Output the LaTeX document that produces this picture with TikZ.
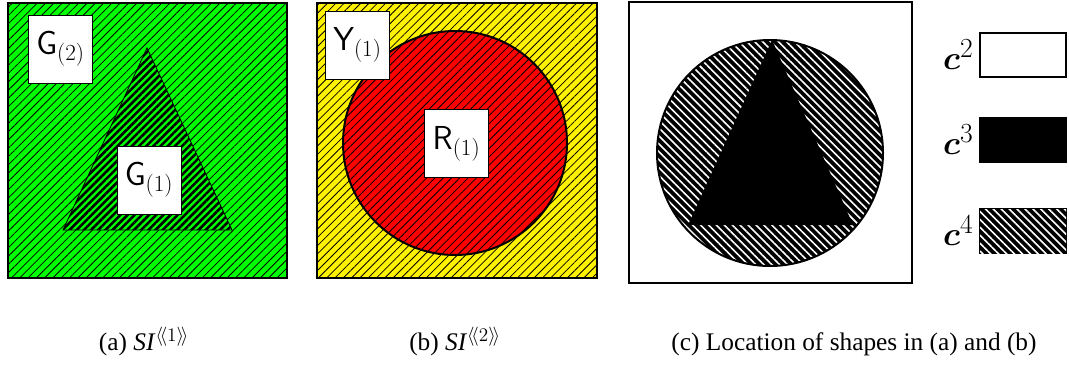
\documentclass[tikz,border=0pt]{standalone}
\usepackage{amsmath,amssymb}
\usepackage[no-math]{fontspec}
\setmainfont{Liberation Serif}
\usetikzlibrary{patterns.meta,positioning}

\tikzset{
  frame/.style={line width=1.5pt},
  thinhatch/.style={pattern={Lines[angle=45,distance=4.4pt,line width=0.6pt]},pattern color=black},
  thickhatch/.style={pattern={Lines[angle=45,distance=3.8pt,line width=1.9pt]},pattern color=black},
  whitehatch/.style={pattern={Lines[angle=-45,distance=4.2pt,line width=1.2pt]},pattern color=white},
  lbl/.style={draw,fill=white,line width=0.6pt,inner sep=0pt,minimum width=48pt,minimum height=51pt,font=\fontsize{26}{30}\selectfont},
  keybox/.style={draw,line width=1.5pt,inner sep=0pt,minimum width=64.5pt,minimum height=33pt},
  keylbl/.style={inner sep=1pt,font=\fontsize{28}{32}\selectfont},
  capt/.style={anchor=base,inner sep=0pt,font=\fontsize{19}{22}\selectfont}
}

\begin{document}
\begin{tikzpicture}[x=0.75pt,y=-0.75pt]
\useasboundingbox (0,0) rectangle (1069,364);

% (a) green square with triangle
\fill[green] (8,3) rectangle (287,278);
\fill[thinhatch] (8,3) rectangle (287,278);
\draw[frame] (8,3) rectangle (287,278);
\fill[green] (147,48) -- (63,230) -- (232,230) -- cycle;
\fill[thickhatch] (147,48) -- (63,230) -- (232,230) -- cycle;
\draw[line width=0.6pt] (147,48) -- (63,230) -- (232,230) -- cycle;
\node[lbl] (g2) at (60.5,49) {$\mathsf{G}_{(2)}$};
\node[lbl] (g1) at (149,180) {$\mathsf{G}_{(1)}$};

% (b) yellow square with red disc
\fill[yellow] (317,3) rectangle (597,278);
\fill[thinhatch] (317,3) rectangle (597,278);
\draw[frame] (317,3) rectangle (597,278);
\fill[red] (455,143) circle[radius=112];
\fill[thinhatch] (455,143) circle[radius=112];
\draw[frame] (455,143) circle[radius=112];
\node[lbl] (y1) at (357.5,45) {$\mathsf{Y}_{(1)}$};
\node[lbl] (r1) at (456.5,143.5) {$\mathsf{R}_{(1)}$};

% (c) where the shapes lie
\draw[frame,fill=white] (629,2) rectangle (912,283);
\fill[black] (770,153) circle[radius=113];
\fill[whitehatch] (770,153) circle[radius=113];
\draw[frame] (770,153) circle[radius=113];
\fill[black] (772,40) -- (688,225) -- (853,225) -- cycle;

% key
\node[keybox,fill=white] (c2box) at (1023,55) {};
\node[keybox,fill=black] (c3box) at (1023,140) {};
\node[keybox,fill=black,postaction={whitehatch}] (c4box) at (1023,231) {};
\node[keylbl,left=3pt of c2box] (c2) {$\boldsymbol{c}^2$};
\node[keylbl,left=3pt of c3box] (c3) {$\boldsymbol{c}^3$};
\node[keylbl,left=3pt of c4box] (c4) {$\boldsymbol{c}^4$};

% captions
\node[capt] (capa) at (144,350) {(a) \textit{SI}$^{\langle\!\langle 1\rangle\!\rangle}$};
\node[capt] (capb) at (455,350) {(b) \textit{SI}$^{\langle\!\langle 2\rangle\!\rangle}$};
\node[capt] (capc) at (854,350) {(c) Location of shapes in (a) and (b)};

\end{tikzpicture}
\end{document}
